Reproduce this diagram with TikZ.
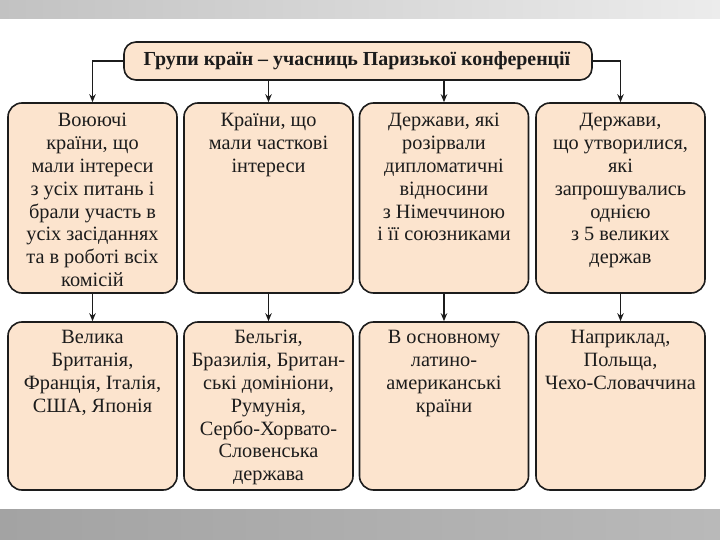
\documentclass[tikz,border=0pt]{standalone}
\usepackage{fontspec}
\setmainfont{Liberation Serif}
\usetikzlibrary{arrows.meta,calc}
\definecolor{boxfill}{HTML}{FCE4CE}
\definecolor{ink}{HTML}{1C1C1C}
\definecolor{bandA}{HTML}{C2C2C2}
\definecolor{bandB}{HTML}{ECECEC}
\definecolor{bandC}{HTML}{A3A3A3}
\definecolor{bandD}{HTML}{B9B9B9}
\newcommand{\firstline}{\rule{0pt}{16pt}}
\tikzset{
  panel/.style={draw=ink, fill=boxfill, line width=1.6pt, rounded corners=14pt, inner sep=0pt},
  toprow/.style={panel, minimum width=169pt, minimum height=190pt},
  botrow/.style={panel, minimum width=169pt, minimum height=168pt},
  txt/.style={align=center, text=ink, inner sep=0pt, anchor=north, font=\fontsize{20.3}{22.9}\selectfont},
  conn/.style={draw=ink, line width=1.4pt, -{Stealth[length=8pt,width=6.5pt]}}
}
\begin{document}
\begin{tikzpicture}[x=1pt,y=-1pt]
\useasboundingbox (0,0) rectangle (720,540);
\shade[left color=bandA, right color=bandB] (0,0) rectangle (720,19);
\shade[left color=bandC, right color=bandD] (0,509) rectangle (720,540);

\node[panel, minimum width=468pt, minimum height=38pt, rounded corners=12pt] (title) at (358,61) {};
\node[text=ink, inner sep=0pt, font=\bfseries\fontsize{19.9}{22}\selectfont] (titletxt) at (357,61) {Групи країн – учасниць Паризької конференції};

\node[toprow] (b1) at (92.5,198) {};
\node[toprow] (b2) at (268.5,198) {};
\node[toprow] (b3) at (444,198) {};
\node[toprow] (b4) at (620.5,198) {};

\node[botrow] (c1) at (92.5,406) {};
\node[botrow] (c2) at (268.5,406) {};
\node[botrow] (c3) at (444,406) {};
\node[botrow] (c4) at (620.5,406) {};

\node[txt] (t1) at ($(b1.north)+(0,8)$) {\firstline Воюючі\\країни, що\\мали інтереси\\з усіх питань і\\брали участь в\\усіх засіданнях\\та в роботі всіх\\комісій};
\node[txt] (t2) at ($(b2.north)+(0,8)$) {\firstline Країни, що\\мали часткові\\інтереси};
\node[txt] (t3) at ($(b3.north)+(0,8)$) {\firstline Держави, які\\розірвали\\дипломатичні\\відносини\\з Німеччиною\\і її союзниками};
\node[txt] (t4) at ($(b4.north)+(0,8)$) {\firstline Держави,\\що утворилися,\\які\\запрошувались\\однією\\з 5 великих\\держав};

\node[txt] (u1) at ($(c1.north)+(0,6)$) {\firstline Велика\\Британія,\\Франція, Італія,\\США, Японія};
\node[txt] (u2) at ($(c2.north)+(0,6)$) {\firstline Бельгія,\\Бразилія, Британ-\\ські домініони,\\Румунія,\\Сербо-Хорвато-\\Словенська\\держава};
\node[txt] (u3) at ($(c3.north)+(0,6)$) {\firstline В основному\\латино-\\американські\\країни};
\node[txt] (u4) at ($(c4.north)+(0,6)$) {\firstline Наприклад,\\Польща,\\Чехо-Словаччина};

\draw[conn] (title.west) -| (b1.north);
\draw[conn] (title.east) -| (b4.north);
\draw[conn] (title.south -| b2.north) -- (b2.north);
\draw[conn] (title.south -| b3.north) -- (b3.north);

\draw[conn] (b1.south) -- (c1.north);
\draw[conn] (b2.south) -- (c2.north);
\draw[conn] (b3.south) -- (c3.north);
\draw[conn] (b4.south) -- (c4.north);
\end{tikzpicture}
\end{document}
